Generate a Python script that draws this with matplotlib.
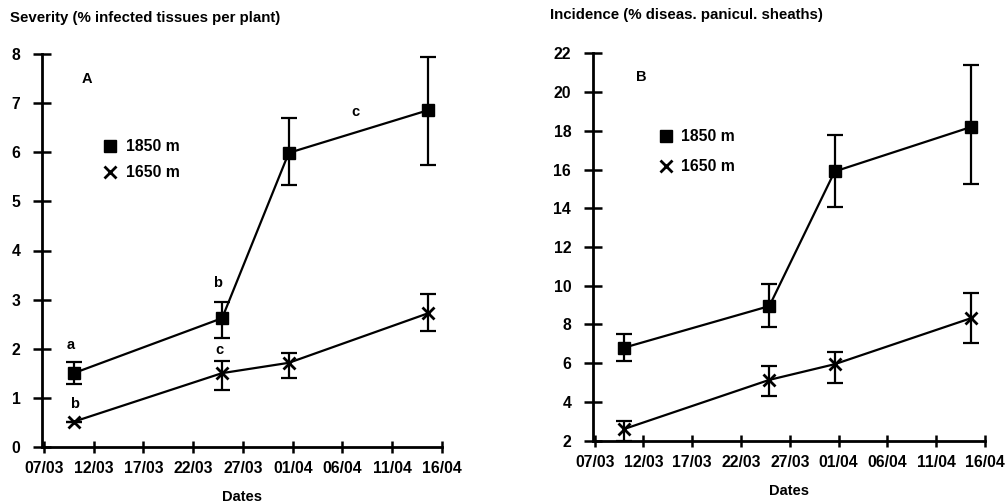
import matplotlib
matplotlib.use("Agg")
import matplotlib.pyplot as plt

plt.rcParams['font.family'] = ['Liberation Sans', 'DejaVu Sans']
plt.rcParams['font.weight'] = 'bold'

# Sampling dates, as days after 07/03
sample_days = [3.0, 17.9, 24.6, 38.6]
tick_days = [0, 5, 10, 15, 20, 25, 30, 35, 40]
tick_labels = ['07/03', '12/03', '17/03', '22/03', '27/03', '01/04', '06/04', '11/04', '16/04']

# Panel A: severity (% infected tissues per plant)
sev_1850 = [1.50, 2.62, 5.99, 6.86]
sev_1850_lo = [1.27, 2.21, 5.34, 5.74]
sev_1850_hi = [1.73, 2.96, 6.71, 7.95]
sev_1650 = [0.51, 1.50, 1.71, 2.72]
sev_1650_lo = [0.51, 1.16, 1.41, 2.36]
sev_1650_hi = [0.51, 1.75, 1.92, 3.11]

# Panel B: incidence (% diseased panicle sheaths)
inc_1850 = [6.8, 8.95, 15.9, 18.2]
inc_1850_lo = [6.13, 7.85, 14.06, 15.27]
inc_1850_hi = [7.5, 10.1, 17.76, 21.4]
inc_1650 = [2.6, 5.14, 5.95, 8.33]
inc_1650_lo = [2.0, 4.33, 5.0, 7.03]
inc_1650_hi = [3.0, 5.86, 6.6, 9.62]

W, H = 1008, 503
fig = plt.figure(figsize=(W / 100, H / 100), dpi=100)


def px_axes(x0, x1, y_top, y_bot):
    return fig.add_axes([x0 / W, 1 - y_bot / H, (x1 - x0) / W, (y_bot - y_top) / H])


def style(ax, yticks, ylim):
    ax.set_xlim(-0.2, 40)
    ax.set_ylim(*ylim)
    for s in ('top', 'right'):
        ax.spines[s].set_visible(False)
    for s in ('left', 'bottom'):
        ax.spines[s].set_linewidth(2.0)
    ax.set_xticks(tick_days)
    ax.set_xticklabels(tick_labels)
    ax.set_yticks(yticks)
    ax.tick_params(axis='y', direction='inout', length=13, width=1.8, pad=9, labelsize=11.3)
    ax.tick_params(axis='x', direction='inout', length=8, width=1.8, pad=6.5, labelsize=11.3)
    for lab in ax.get_xticklabels() + ax.get_yticklabels():
        lab.set_fontweight('bold')
    ax.set_xlabel('Dates', fontsize=10.5, fontweight='bold', labelpad=10)


def draw(ax, m_vals, m_lo, m_hi, x_vals, x_lo, x_hi):
    err_m = [[v - l for v, l in zip(m_vals, m_lo)], [h - v for v, h in zip(m_vals, m_hi)]]
    err_x = [[v - l for v, l in zip(x_vals, x_lo)], [h - v for v, h in zip(x_vals, x_hi)]]
    ax.errorbar(sample_days, m_vals, yerr=err_m, fmt='none', ecolor='black',
                elinewidth=1.6, capsize=5.5, capthick=1.6)
    ax.errorbar(sample_days, x_vals, yerr=err_x, fmt='none', ecolor='black',
                elinewidth=1.6, capsize=5.5, capthick=1.6)
    h1, = ax.plot(sample_days, m_vals, '-', color='black', lw=1.6, marker='s',
                  markersize=9, markerfacecolor='black', label='1850 m')
    h2, = ax.plot(sample_days, x_vals, '-', color='black', lw=1.6, marker='x',
                  markersize=9, markeredgewidth=2.0, label='1650 m')
    return h1, h2


# ---- Panel A ----
axA = px_axes(42, 442, 54.3, 446.7)
style(axA, range(0, 9), (0, 8))
hA = draw(axA, sev_1850, sev_1850_lo, sev_1850_hi, sev_1650, sev_1650_lo, sev_1650_hi)
axA.legend(handles=list(hA), loc='upper left', bbox_to_anchor=(0.135, 0.82),
           frameon=False, handlelength=0, handletextpad=1.0, labelspacing=0.7,
           prop={'size': 11.3, 'weight': 'bold'})
axA.text(4.3, 7.5, 'A', fontsize=10.5, fontweight='bold', ha='center', va='center')
axA.text(2.7, 2.07, 'a', fontsize=10.5, fontweight='bold', ha='center', va='center')
axA.text(3.1, 0.87, 'b', fontsize=10.5, fontweight='bold', ha='center', va='center')
axA.text(17.4, 3.33, 'b', fontsize=10.5, fontweight='bold', ha='center', va='center')
axA.text(17.6, 1.97, 'c', fontsize=10.5, fontweight='bold', ha='center', va='center')
axA.text(31.3, 6.82, 'c', fontsize=10.5, fontweight='bold', ha='center', va='center')
fig.text(10 / W, 1 - 18 / H, 'Severity (% infected tissues per plant)', fontsize=10.8,
         fontweight='bold', ha='left', va='center')

# ---- Panel B ----
axB = px_axes(592.7, 985, 53.3, 440.7)
style(axB, range(2, 23, 2), (2, 22))
hB = draw(axB, inc_1850, inc_1850_lo, inc_1850_hi, inc_1650, inc_1650_lo, inc_1650_hi)
axB.legend(handles=list(hB), loc='upper left', bbox_to_anchor=(0.15, 0.84),
           frameon=False, handlelength=0, handletextpad=1.0, labelspacing=0.95,
           prop={'size': 11.3, 'weight': 'bold'})
axB.text(4.8, 20.8, 'B', fontsize=10.5, fontweight='bold', ha='center', va='center')
fig.text(550 / W, 1 - 15 / H, 'Incidence (% diseas. panicul. sheaths)', fontsize=10.8,
         fontweight='bold', ha='left', va='center')

fig.savefig('out.png', dpi=100)
